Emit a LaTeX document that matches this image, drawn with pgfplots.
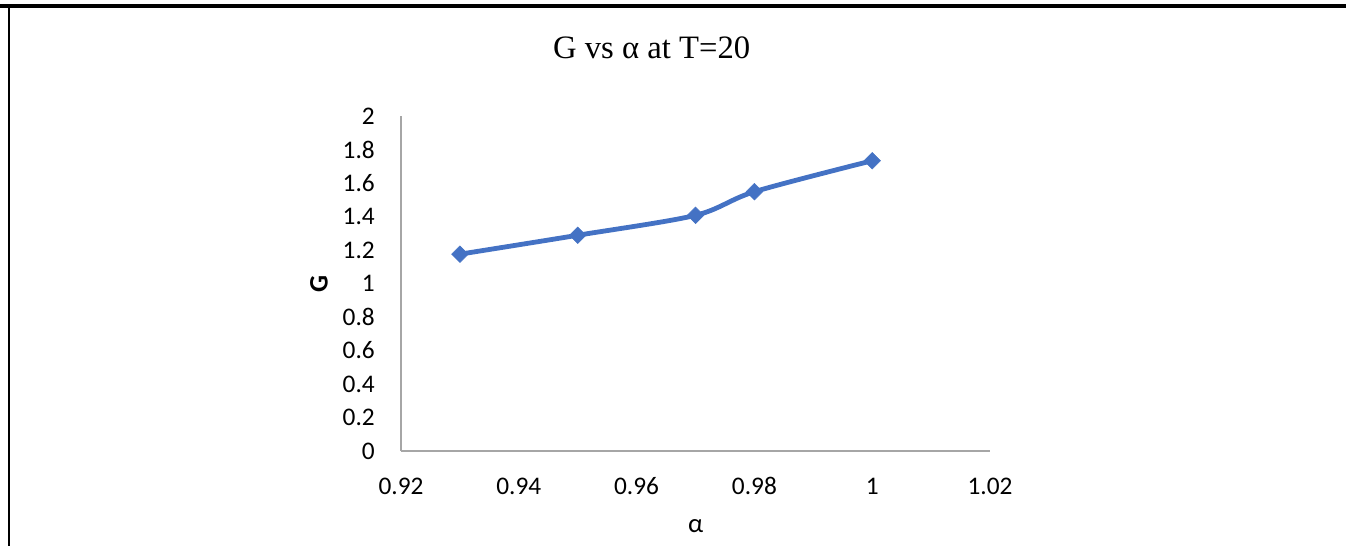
\documentclass[border=0pt]{standalone}
\usepackage{fontspec}
\setmainfont{Carlito}
\newfontfamily\titlefont{Liberation Serif}
\usepackage{pgfplots}
\pgfplotsset{compat=1.18}
\definecolor{serieblue}{HTML}{4472C4}
\definecolor{axisgray}{HTML}{A6A6A6}

\begin{document}
\begin{tikzpicture}
% page extent
\useasboundingbox (-300.75pt,-71.25pt) rectangle (708.75pt,338.25pt);
% frame lines
\draw[line width=3pt] (-300.75pt,333.75pt) -- (708.75pt,333.75pt);
\draw[line width=1.5pt] (-294pt,333pt) -- (-294pt,-71.25pt);

\begin{axis}[
  at={(0,0)}, anchor=south west,
  scale only axis,
  width=441.75pt, height=251.25pt,
  xmin=0.92, xmax=1.02, ymin=0, ymax=2,
  axis x line=bottom, axis y line=left,
  axis line style={draw=axisgray, line width=1pt, -},
  major tick length=0pt,
  xtick={0.92,0.94,0.96,0.98,1,1.02},
  xticklabels={0.92,0.94,0.96,0.98,1,1.02},
  ytick={0,0.2,0.4,0.6,0.8,1,1.2,1.4,1.6,1.8,2},
  yticklabels={0,0.2,0.4,0.6,0.8,1,1.2,1.4,1.6,1.8,2},
  ticklabel style={font=\fontsize{19}{22}\selectfont, inner sep=0pt},
  xticklabel style={anchor=base, yshift=-32.25pt},
  yticklabel style={anchor=east, xshift=-19.5pt},
  clip=false,
]
\addplot[serieblue, line width=3.6pt, smooth, tension=0.5,
  mark=square*, mark size=4.4pt,
  mark options={solid, rotate=45, line width=0.4pt, fill=serieblue, draw=serieblue}]
  coordinates {
  (0.93,1.175)
  (0.95,1.288)
  (0.97,1.407)
  (0.98,1.548)
  (1.00,1.733)
};
\end{axis}

% chart title and axis titles
\node[anchor=base, inner sep=0pt, font=\titlefont\fontsize{24.5}{29}\selectfont] at (188pt,294pt) {G vs α at T=20};
\node[anchor=base, inner sep=0pt, font=\fontsize{20}{24}\selectfont] at (221pt,-61.5pt) {α};
\node[rotate=90, inner sep=0pt, font=\bfseries\fontsize{20}{24}\selectfont] at (-61.5pt,125.6pt) {G};
\end{tikzpicture}
\end{document}
